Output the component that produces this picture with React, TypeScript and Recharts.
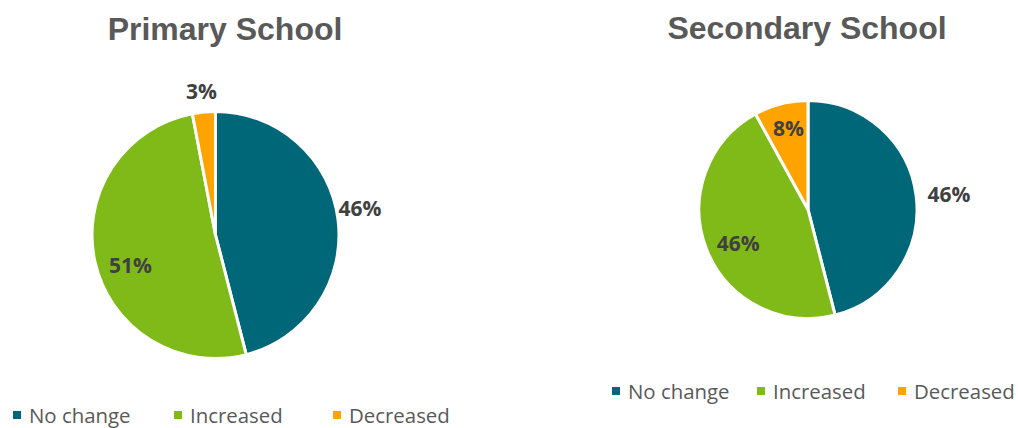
import { PieChart, Pie, Cell, Legend } from "recharts";

const categories = ["No change", "Increased", "Decreased"];
const primaryValues = [46, 51, 3];
const secondaryValues = [46, 46, 8];

const COLORS = ["#006778", "#80BA18", "#FFA300"]; // teal, green, orange

// label placement per slice: radius factor and angle nudge (deg)
const primaryLabelPos = [
  { f: 1.19, da: 3.4 },
  { f: 0.73, da: 6.7 },
  { f: 1.17, da: 0.2 },
];
const secondaryLabelPos = [
  { f: 1.3, da: -1.1 },
  { f: 0.71, da: 4.1 },
  { f: 0.77, da: -0.9 },
];

const RAD = Math.PI / 180;
const NO_MARGIN = { top: 0, right: 0, bottom: 0, left: 0 };

function makeLabel(pos: { f: number; da: number }[]) {
  return (props: any) => {
    const { cx, cy, midAngle, outerRadius, index, value } = props;
    const p = pos[index];
    const a = (midAngle + p.da) * RAD;
    const r = outerRadius * p.f;
    return (
      <text
        x={cx + r * Math.cos(a)}
        y={cy - r * Math.sin(a)}
        textAnchor="middle"
        dominantBaseline="central"
        fill="#404040"
        fontFamily="'Open Sans', sans-serif"
        fontWeight={700}
        fontSize={21}
      >
        {`${value}%`}
      </text>
    );
  };
}

// keep legend in data order (not alphabetical)
function makeLegend(itemWidths: number[]) {
  return () => (
    <div style={{ display: "flex", height: 28, alignItems: "center" }}>
      {categories.map((name, i) => (
        <div
          key={`leg-${i}`}
          style={{
            width: itemWidths[i],
            flexShrink: 0,
            display: "flex",
            alignItems: "center",
          }}
        >
          <span
            style={{
              width: 8,
              height: 8,
              flexShrink: 0,
              background: COLORS[i],
              display: "inline-block",
              marginRight: 8,
            }}
          />
          <span
            style={{
              fontFamily: "'Open Sans', sans-serif",
              fontSize: 20.4,
              color: "#595959",
              lineHeight: "28px",
              whiteSpace: "nowrap",
            }}
          >
            {name}
          </span>
        </div>
      ))}
    </div>
  );
}

const titleStyle: React.CSSProperties = {
  position: "absolute",
  fontFamily: "'Liberation Sans', Arial, sans-serif",
  fontWeight: 700,
  fontSize: 32,
  lineHeight: "32px",
  color: "#595959",
  textAlign: "center",
  whiteSpace: "nowrap",
};

export default function App() {
  const primaryData = categories.map((name, i) => ({ name, value: primaryValues[i] }));
  const secondaryData = categories.map((name, i) => ({ name, value: secondaryValues[i] }));

  return (
    <div
      style={{
        position: "absolute",
        left: 0,
        top: 0,
        width: 1018,
        height: 428,
        background: "#fff",
        overflow: "hidden",
      }}
    >
      <div style={{ ...titleStyle, left: 0, width: 450, top: 13 }}>Primary School</div>
      <div style={{ ...titleStyle, left: 582, width: 450, top: 12 }}>Secondary School</div>

      <div style={{ position: "absolute", left: 0, top: 0 }}>
        <PieChart width={509} height={428} margin={NO_MARGIN}>
          <Pie
            data={primaryData}
            dataKey="value"
            nameKey="name"
            cx={215.5}
            cy={235}
            outerRadius={123.5}
            startAngle={90}
            endAngle={-270}
            stroke="#fff"
            strokeWidth={3}
            label={makeLabel(primaryLabelPos)}
            labelLine={false}
            isAnimationActive={false}
          >
            {primaryData.map((d, idx) => (
              <Cell key={`p-${idx}`} fill={COLORS[idx]} />
            ))}
          </Pie>
          <Legend
            content={makeLegend([161, 159, 150])}
            wrapperStyle={{ position: "absolute", left: 13, top: 401, width: 496, height: 28 }}
          />
        </PieChart>
      </div>

      <div style={{ position: "absolute", left: 509, top: 0 }}>
        <PieChart width={509} height={428} margin={NO_MARGIN}>
          <Pie
            data={secondaryData}
            dataKey="value"
            nameKey="name"
            cx={299}
            cy={209.5}
            outerRadius={109}
            startAngle={90}
            endAngle={-270}
            stroke="#fff"
            strokeWidth={3}
            label={makeLabel(secondaryLabelPos)}
            labelLine={false}
            isAnimationActive={false}
          >
            {secondaryData.map((d, idx) => (
              <Cell key={`s-${idx}`} fill={COLORS[idx]} />
            ))}
          </Pie>
          <Legend
            content={makeLegend([145, 141, 120])}
            wrapperStyle={{ position: "absolute", left: 103, top: 377, width: 406, height: 28 }}
          />
        </PieChart>
      </div>
    </div>
  );
}
